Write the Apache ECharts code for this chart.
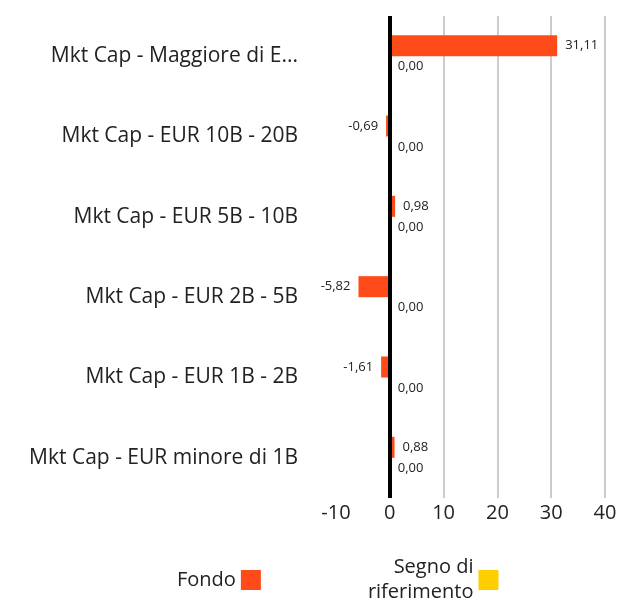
<!DOCTYPE html>
<html>
<head>
<meta charset="utf-8">
<script src="https://cdn.jsdelivr.net/npm/echarts@6/dist/echarts.min.js"></script>
<style>
  html, body { margin: 0; padding: 0; background: #fff; }
  #chart { width: 630px; height: 603px; }
</style>
</head>
<body>
<div id="chart"></div>
<script>
var categories = [
    'Mkt Cap - Maggiore di E...',
    'Mkt Cap - EUR 10B - 20B',
    'Mkt Cap - EUR 5B - 10B',
    'Mkt Cap - EUR 2B - 5B',
    'Mkt Cap - EUR 1B - 2B',
    'Mkt Cap - EUR minore di 1B'
];
var fondoValues = [31.11, -0.69, 0.98, -5.82, -1.61, 0.88];
var benchmarkValues = [0, 0, 0, 0, 0, 0];
var xTicks = [-10, 0, 10, 20, 30, 40];

var fontName = '"Open Sans", sans-serif';

function fmt(v) {
    return v.toFixed(2).replace('.', ',');
}

var fondoData = fondoValues.map(function (v) {
    return {value: v, label: {position: v < 0 ? 'left' : 'right'}};
});

var chart = echarts.init(document.getElementById('chart'));

chart.setOption({
    animation: false,
    textStyle: {fontFamily: fontName},
    grid: {left: 336, right: 25, top: 16, bottom: 105},
    legend: {
        left: 172,
        top: 550,
        align: 'right',
        itemWidth: 20,
        itemHeight: 20,
        itemGap: 107,
        icon: 'rect',
        textStyle: {fontSize: 20, color: '#222', fontFamily: fontName, lineHeight: 25},
        data: ['Fondo', 'Segno di\nriferimento']
    },
    xAxis: {
        type: 'value',
        min: xTicks[0],
        max: xTicks[xTicks.length - 1],
        interval: 10,
        axisLine: {show: false},
        axisTick: {show: false},
        axisLabel: {fontSize: 20, color: '#222', margin: 5},
        splitLine: {show: true, showMinLine: false, lineStyle: {color: '#cccccc', width: 2}}
    },
    yAxis: {
        type: 'category',
        inverse: true,
        data: categories,
        axisLine: {show: false, onZero: false},
        axisTick: {show: false},
        axisLabel: {fontSize: 21, color: '#222', margin: 38}
    },
    series: [
        {
            name: 'Fondo',
            type: 'bar',
            data: fondoData,
            barWidth: 21,
            barGap: '0%',
            itemStyle: {color: '#FF4B19'},
            label: {
                show: true,
                fontSize: 13,
                color: '#222',
                distance: 8,
                formatter: function (p) { return fmt(p.value); }
            },
            markLine: {
                silent: true,
                symbol: 'none',
                label: {show: false},
                lineStyle: {color: '#000', width: 4, type: 'solid'},
                data: [{xAxis: 0}]
            }
        },
        {
            name: 'Segno di\nriferimento',
            type: 'bar',
            data: benchmarkValues,
            barWidth: 21,
            itemStyle: {color: '#FFCE00'},
            label: {
                show: true,
                position: 'right',
                fontSize: 13,
                color: '#222',
                distance: 8,
                formatter: function (p) { return fmt(p.value); }
            }
        }
    ]
});
</script>
</body>
</html>
